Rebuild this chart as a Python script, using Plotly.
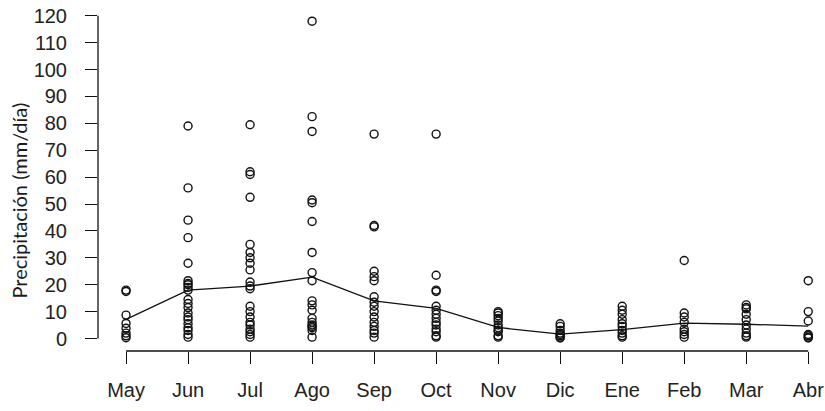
import plotly.graph_objects as go

# Monthly daily precipitation (mm/día), one list per month
months = ["May", "Jun", "Jul", "Ago", "Sep", "Oct", "Nov", "Dic", "Ene", "Feb", "Mar", "Abr"]

may = [17.5, 18.0, 8.7, 5.6, 3.8, 2.0, 1.0, 0.3]
jun = [79, 56, 44, 37.5, 28, 21.5, 20.5, 20, 19, 18, 14.5, 13, 11.5, 9.5, 8, 7, 5.5, 4, 3, 1.5, 0.5]
jul = [79.5, 62, 61, 52.5, 35, 32, 30, 28, 25.5, 21, 19.5, 18.5, 12, 10, 8, 6, 5, 3.5, 2.5, 1.5, 0.5]
ago = [118, 82.5, 77, 51.5, 50.5, 43.5, 32, 24.5, 21.5, 14, 12.5, 10.5, 7.5, 6, 5, 4.5, 4, 3, 0.5]
sep = [76, 42, 41.5, 25, 23, 21.5, 15.5, 13.5, 12, 10, 8, 6, 4.5, 3, 2, 0.5]
oct_ = [76, 23.5, 18, 17.5, 12, 10.5, 9, 7.5, 6, 5, 3.5, 2.5, 1, 0.5]
nov = [10, 9.5, 8.5, 7.5, 6.5, 5, 4, 3, 2.5, 1, 0.5]
dic = [5.5, 4.5, 3, 2, 1.5, 1, 0.5, 0.2]
ene = [12, 10.5, 9, 7, 5.5, 4.5, 3, 2, 1, 0.5]
feb = [29, 9.5, 8, 6, 3.5, 2.5, 1.5, 0.5]
mar = [12.5, 11.5, 11, 9, 7, 5, 3.5, 2, 1, 0.5]
abr = [21.5, 10, 6.5, 1.5, 1, 0.5, 0.2]

# Monthly mean line
monthly_mean = [7.1, 18.0, 19.5, 22.8, 14.0, 11.2, 4.1, 1.6, 3.3, 5.7, 5.3, 4.6]

y_ticks = list(range(0, 121, 10))

daily = [may, jun, jul, ago, sep, oct_, nov, dic, ene, feb, mar, abr]
positions = list(range(1, len(months) + 1))

xs, ys = [], []
for pos, vals in zip(positions, daily):
    xs.extend([pos] * len(vals))
    ys.extend(vals)

ink = "#111111"
tick_font = dict(family="Liberation Sans, Arial, sans-serif", size=20, color="#222222")

fig = go.Figure()
fig.add_trace(go.Scatter(
    x=xs, y=ys, mode="markers",
    marker=dict(symbol="circle-open", size=8, color=ink, line=dict(width=1.4, color=ink)),
    hoverinfo="y",
))
fig.add_trace(go.Scatter(
    x=positions, y=monthly_mean, mode="lines",
    line=dict(color=ink, width=1.3),
))

axis_common = dict(
    showgrid=False, zeroline=False, showline=False,
    ticks="outside", ticklen=12, tickwidth=1.3, tickcolor=ink,
    tickfont=tick_font,
)

fig.update_layout(
    width=825, height=411,
    margin=dict(l=98, r=0, t=8, b=60),
    paper_bgcolor="white", plot_bgcolor="white",
    showlegend=False,
    xaxis=dict(range=[0.548, 12.27], tickvals=positions, ticktext=months,
               ticklabelstandoff=9, **axis_common),
    yaxis=dict(range=[-4.65, 122.9], tickvals=y_ticks,
               ticklabelstandoff=14, **axis_common),
    annotations=[dict(
        text="Precipitación (mm/día)", textangle=-90,
        xref="paper", yref="paper", x=-0.108, y=0.44,
        xanchor="center", yanchor="middle", showarrow=False,
        font=dict(family="Lato, Open Sans, sans-serif", size=20, color="#1a1a1a"),
    )],
    shapes=[
        # R-style axis lines spanning only the first to last tick
        dict(type="line", xref="x", yref="paper", x0=positions[0], x1=positions[-1], y0=0, y1=0,
             line=dict(color=ink, width=1.3)),
        dict(type="line", xref="paper", yref="y", x0=0, x1=0, y0=y_ticks[0], y1=y_ticks[-1],
             line=dict(color=ink, width=1.3)),
    ],
)

fig.write_html("out.html")
